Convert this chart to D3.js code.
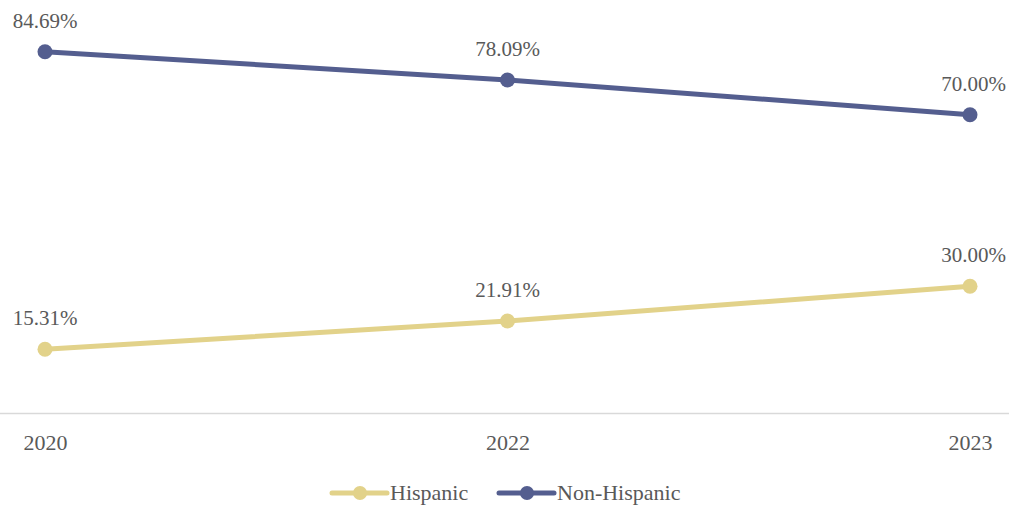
<!DOCTYPE html>
<html>
<head>
<meta charset="utf-8">
<script src="https://cdn.jsdelivr.net/npm/d3@7"></script>
<style>
  body { margin: 0; background: #fff; }
  text { font-family: "Liberation Serif", "DejaVu Serif", serif; fill: #595959; }
</style>
</head>
<body>
<svg id="chart" width="1009" height="510"></svg>
<script>
var years = ["2020", "2022", "2023"];
var hispanic = [15.31, 21.91, 30.00];
var nonHispanic = [84.69, 78.09, 70.00];
var seriesNames = ["Hispanic", "Non-Hispanic"];
var seriesColors = ["#E2D28A", "#545E8F"];

var svg = d3.select("#chart");

var x = d3.scalePoint().domain(years).range([45, 970]);
var y = d3.scaleLinear().domain([0, 100]).range([415, -14]);

// baseline axis
svg.append("line")
  .attr("x1", 0).attr("x2", 1009)
  .attr("y1", 413.5).attr("y2", 413.5)
  .attr("stroke", "#d9d9d9").attr("stroke-width", 1.5);

var xAxis = svg.append("g")
  .attr("transform", "translate(0,413)")
  .call(d3.axisBottom(x).tickSize(0).tickPadding(21));
xAxis.select(".domain").remove();
xAxis.selectAll("text")
  .attr("font-size", "22px")
  .style("font-family", "Liberation Serif, serif")
  .attr("fill", "#595959");

var series = [hispanic, nonHispanic];

series.forEach(function(vals, s) {
  var pts = years.map(function(yr, i) { return [x(yr), y(vals[i])]; });
  svg.append("path")
    .attr("d", d3.line()(pts))
    .attr("fill", "none")
    .attr("stroke", seriesColors[s])
    .attr("stroke-width", 5)
    .attr("stroke-linecap", "round");
  for (var i = 0; i < pts.length; i++) {
    svg.append("circle")
      .attr("cx", pts[i][0]).attr("cy", pts[i][1])
      .attr("r", 7.5)
      .attr("fill", seriesColors[s]);
    svg.append("text")
      .attr("x", i === pts.length - 1 ? 1006 : pts[i][0])
      .attr("y", pts[i][1] - 24)
      .attr("text-anchor", i === pts.length - 1 ? "end" : "middle")
      .attr("font-size", "21px")
      .text(vals[i].toFixed(2) + "%");
  }
});

// legend
var legendX = [332, 499];
seriesNames.forEach(function(name, s) {
  var g = svg.append("g").attr("transform", "translate(" + legendX[s] + ",493)");
  g.append("line")
    .attr("x1", 0).attr("x2", 55)
    .attr("stroke", seriesColors[s]).attr("stroke-width", 5)
    .attr("stroke-linecap", "round");
  g.append("circle").attr("cx", 28).attr("r", 7).attr("fill", seriesColors[s]);
  g.append("text")
    .attr("x", 58).attr("y", 7)
    .attr("font-size", "22px")
    .text(name);
});
</script>
</body>
</html>
